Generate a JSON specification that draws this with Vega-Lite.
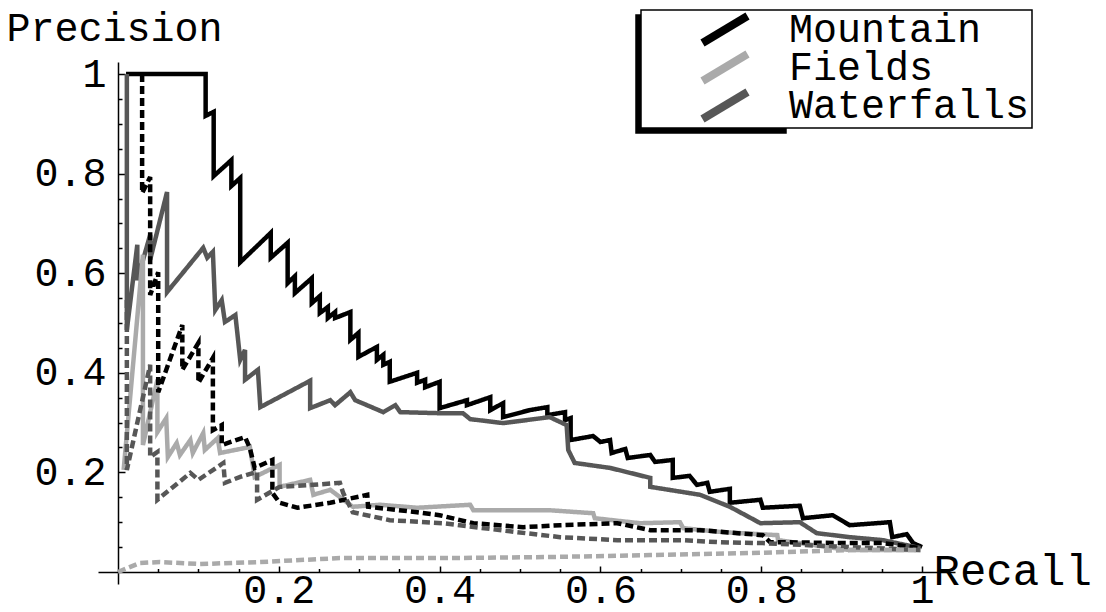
{
  "$schema": "https://vega.github.io/schema/vega-lite/v6.json",
  "width": 857,
  "height": 522,
  "autosize": "none",
  "padding": {"left": 98, "top": 62, "right": 151, "bottom": 28},
  "background": "white",
  "config": {
    "view": {"stroke": null},
    "font": "Liberation Mono",
    "legend": {"strokeWidth": 1.5}
  },
  "data": {"values": [
    {"s":"Mountain","k":"solid","i":1,"x":0.010,"y":1.000},
    {"s":"Mountain","k":"solid","i":2,"x":0.109,"y":1.000},
    {"s":"Mountain","k":"solid","i":3,"x":0.109,"y":0.916},
    {"s":"Mountain","k":"solid","i":4,"x":0.119,"y":0.924},
    {"s":"Mountain","k":"solid","i":5,"x":0.119,"y":0.795},
    {"s":"Mountain","k":"solid","i":6,"x":0.141,"y":0.827},
    {"s":"Mountain","k":"solid","i":7,"x":0.141,"y":0.775},
    {"s":"Mountain","k":"solid","i":8,"x":0.152,"y":0.791},
    {"s":"Mountain","k":"solid","i":9,"x":0.152,"y":0.622},
    {"s":"Mountain","k":"solid","i":10,"x":0.190,"y":0.681},
    {"s":"Mountain","k":"solid","i":11,"x":0.190,"y":0.631},
    {"s":"Mountain","k":"solid","i":12,"x":0.211,"y":0.661},
    {"s":"Mountain","k":"solid","i":13,"x":0.211,"y":0.580},
    {"s":"Mountain","k":"solid","i":14,"x":0.220,"y":0.594},
    {"s":"Mountain","k":"solid","i":15,"x":0.220,"y":0.560},
    {"s":"Mountain","k":"solid","i":16,"x":0.241,"y":0.590},
    {"s":"Mountain","k":"solid","i":17,"x":0.241,"y":0.540},
    {"s":"Mountain","k":"solid","i":18,"x":0.251,"y":0.554},
    {"s":"Mountain","k":"solid","i":19,"x":0.251,"y":0.520},
    {"s":"Mountain","k":"solid","i":20,"x":0.261,"y":0.532},
    {"s":"Mountain","k":"solid","i":21,"x":0.261,"y":0.510},
    {"s":"Mountain","k":"solid","i":22,"x":0.270,"y":0.522},
    {"s":"Mountain","k":"solid","i":23,"x":0.270,"y":0.510},
    {"s":"Mountain","k":"solid","i":24,"x":0.289,"y":0.522},
    {"s":"Mountain","k":"solid","i":25,"x":0.289,"y":0.466},
    {"s":"Mountain","k":"solid","i":26,"x":0.299,"y":0.480},
    {"s":"Mountain","k":"solid","i":27,"x":0.299,"y":0.432},
    {"s":"Mountain","k":"solid","i":28,"x":0.322,"y":0.452},
    {"s":"Mountain","k":"solid","i":29,"x":0.322,"y":0.426},
    {"s":"Mountain","k":"solid","i":30,"x":0.330,"y":0.436},
    {"s":"Mountain","k":"solid","i":31,"x":0.330,"y":0.416},
    {"s":"Mountain","k":"solid","i":32,"x":0.338,"y":0.422},
    {"s":"Mountain","k":"solid","i":33,"x":0.338,"y":0.382},
    {"s":"Mountain","k":"solid","i":34,"x":0.372,"y":0.400},
    {"s":"Mountain","k":"solid","i":35,"x":0.372,"y":0.380},
    {"s":"Mountain","k":"solid","i":36,"x":0.382,"y":0.386},
    {"s":"Mountain","k":"solid","i":37,"x":0.382,"y":0.371},
    {"s":"Mountain","k":"solid","i":38,"x":0.400,"y":0.382},
    {"s":"Mountain","k":"solid","i":39,"x":0.400,"y":0.329},
    {"s":"Mountain","k":"solid","i":40,"x":0.434,"y":0.345},
    {"s":"Mountain","k":"solid","i":41,"x":0.434,"y":0.335},
    {"s":"Mountain","k":"solid","i":42,"x":0.463,"y":0.351},
    {"s":"Mountain","k":"solid","i":43,"x":0.463,"y":0.325},
    {"s":"Mountain","k":"solid","i":44,"x":0.479,"y":0.339},
    {"s":"Mountain","k":"solid","i":45,"x":0.479,"y":0.311},
    {"s":"Mountain","k":"solid","i":46,"x":0.512,"y":0.325},
    {"s":"Mountain","k":"solid","i":47,"x":0.534,"y":0.331},
    {"s":"Mountain","k":"solid","i":48,"x":0.534,"y":0.315},
    {"s":"Mountain","k":"solid","i":49,"x":0.556,"y":0.321},
    {"s":"Mountain","k":"solid","i":50,"x":0.556,"y":0.305},
    {"s":"Mountain","k":"solid","i":51,"x":0.563,"y":0.309},
    {"s":"Mountain","k":"solid","i":52,"x":0.563,"y":0.265},
    {"s":"Mountain","k":"solid","i":53,"x":0.591,"y":0.273},
    {"s":"Mountain","k":"solid","i":54,"x":0.600,"y":0.261},
    {"s":"Mountain","k":"solid","i":55,"x":0.612,"y":0.265},
    {"s":"Mountain","k":"solid","i":56,"x":0.614,"y":0.239},
    {"s":"Mountain","k":"solid","i":57,"x":0.631,"y":0.247},
    {"s":"Mountain","k":"solid","i":58,"x":0.634,"y":0.229},
    {"s":"Mountain","k":"solid","i":59,"x":0.662,"y":0.235},
    {"s":"Mountain","k":"solid","i":60,"x":0.668,"y":0.221},
    {"s":"Mountain","k":"solid","i":61,"x":0.690,"y":0.225},
    {"s":"Mountain","k":"solid","i":62,"x":0.690,"y":0.189},
    {"s":"Mountain","k":"solid","i":63,"x":0.711,"y":0.193},
    {"s":"Mountain","k":"solid","i":64,"x":0.720,"y":0.175},
    {"s":"Mountain","k":"solid","i":65,"x":0.733,"y":0.179},
    {"s":"Mountain","k":"solid","i":66,"x":0.736,"y":0.161},
    {"s":"Mountain","k":"solid","i":67,"x":0.761,"y":0.167},
    {"s":"Mountain","k":"solid","i":68,"x":0.761,"y":0.139},
    {"s":"Mountain","k":"solid","i":69,"x":0.799,"y":0.145},
    {"s":"Mountain","k":"solid","i":70,"x":0.802,"y":0.129},
    {"s":"Mountain","k":"solid","i":71,"x":0.848,"y":0.133},
    {"s":"Mountain","k":"solid","i":72,"x":0.852,"y":0.108},
    {"s":"Mountain","k":"solid","i":73,"x":0.889,"y":0.114},
    {"s":"Mountain","k":"solid","i":74,"x":0.910,"y":0.094},
    {"s":"Mountain","k":"solid","i":75,"x":0.960,"y":0.100},
    {"s":"Mountain","k":"solid","i":76,"x":0.963,"y":0.070},
    {"s":"Mountain","k":"solid","i":77,"x":0.981,"y":0.076},
    {"s":"Mountain","k":"solid","i":78,"x":0.989,"y":0.058},
    {"s":"Mountain","k":"solid","i":79,"x":1.000,"y":0.050},

    {"s":"Waterfalls","k":"solid","i":1,"x":0.011,"y":1.000},
    {"s":"Waterfalls","k":"solid","i":2,"x":0.011,"y":0.486},
    {"s":"Waterfalls","k":"solid","i":3,"x":0.024,"y":0.657},
    {"s":"Waterfalls","k":"solid","i":4,"x":0.024,"y":0.586},
    {"s":"Waterfalls","k":"solid","i":5,"x":0.040,"y":0.677},
    {"s":"Waterfalls","k":"solid","i":6,"x":0.040,"y":0.627},
    {"s":"Waterfalls","k":"solid","i":7,"x":0.061,"y":0.763},
    {"s":"Waterfalls","k":"solid","i":8,"x":0.061,"y":0.562},
    {"s":"Waterfalls","k":"solid","i":9,"x":0.106,"y":0.651},
    {"s":"Waterfalls","k":"solid","i":10,"x":0.111,"y":0.631},
    {"s":"Waterfalls","k":"solid","i":11,"x":0.118,"y":0.643},
    {"s":"Waterfalls","k":"solid","i":12,"x":0.121,"y":0.526},
    {"s":"Waterfalls","k":"solid","i":13,"x":0.129,"y":0.546},
    {"s":"Waterfalls","k":"solid","i":14,"x":0.133,"y":0.502},
    {"s":"Waterfalls","k":"solid","i":15,"x":0.146,"y":0.516},
    {"s":"Waterfalls","k":"solid","i":16,"x":0.152,"y":0.426},
    {"s":"Waterfalls","k":"solid","i":17,"x":0.158,"y":0.446},
    {"s":"Waterfalls","k":"solid","i":18,"x":0.158,"y":0.386},
    {"s":"Waterfalls","k":"solid","i":19,"x":0.174,"y":0.406},
    {"s":"Waterfalls","k":"solid","i":20,"x":0.177,"y":0.331},
    {"s":"Waterfalls","k":"solid","i":21,"x":0.239,"y":0.384},
    {"s":"Waterfalls","k":"solid","i":22,"x":0.239,"y":0.329},
    {"s":"Waterfalls","k":"solid","i":23,"x":0.264,"y":0.345},
    {"s":"Waterfalls","k":"solid","i":24,"x":0.270,"y":0.335},
    {"s":"Waterfalls","k":"solid","i":25,"x":0.289,"y":0.361},
    {"s":"Waterfalls","k":"solid","i":26,"x":0.295,"y":0.345},
    {"s":"Waterfalls","k":"solid","i":27,"x":0.330,"y":0.321},
    {"s":"Waterfalls","k":"solid","i":28,"x":0.345,"y":0.335},
    {"s":"Waterfalls","k":"solid","i":29,"x":0.351,"y":0.321},
    {"s":"Waterfalls","k":"solid","i":30,"x":0.397,"y":0.319},
    {"s":"Waterfalls","k":"solid","i":31,"x":0.429,"y":0.319},
    {"s":"Waterfalls","k":"solid","i":32,"x":0.438,"y":0.307},
    {"s":"Waterfalls","k":"solid","i":33,"x":0.479,"y":0.299},
    {"s":"Waterfalls","k":"solid","i":34,"x":0.537,"y":0.311},
    {"s":"Waterfalls","k":"solid","i":35,"x":0.558,"y":0.295},
    {"s":"Waterfalls","k":"solid","i":36,"x":0.560,"y":0.245},
    {"s":"Waterfalls","k":"solid","i":37,"x":0.568,"y":0.219},
    {"s":"Waterfalls","k":"solid","i":38,"x":0.612,"y":0.209},
    {"s":"Waterfalls","k":"solid","i":39,"x":0.662,"y":0.189},
    {"s":"Waterfalls","k":"solid","i":40,"x":0.662,"y":0.171},
    {"s":"Waterfalls","k":"solid","i":41,"x":0.724,"y":0.155},
    {"s":"Waterfalls","k":"solid","i":42,"x":0.761,"y":0.131},
    {"s":"Waterfalls","k":"solid","i":43,"x":0.799,"y":0.098},
    {"s":"Waterfalls","k":"solid","i":44,"x":0.848,"y":0.100},
    {"s":"Waterfalls","k":"solid","i":45,"x":0.869,"y":0.078},
    {"s":"Waterfalls","k":"solid","i":46,"x":0.910,"y":0.070},
    {"s":"Waterfalls","k":"solid","i":47,"x":0.951,"y":0.064},
    {"s":"Waterfalls","k":"solid","i":48,"x":0.998,"y":0.048},

    {"s":"Fields","k":"solid","i":1,"x":0.007,"y":0.205},
    {"s":"Fields","k":"solid","i":2,"x":0.031,"y":0.637},
    {"s":"Fields","k":"solid","i":3,"x":0.031,"y":0.255},
    {"s":"Fields","k":"solid","i":4,"x":0.049,"y":0.386},
    {"s":"Fields","k":"solid","i":5,"x":0.049,"y":0.281},
    {"s":"Fields","k":"solid","i":6,"x":0.060,"y":0.309},
    {"s":"Fields","k":"solid","i":7,"x":0.062,"y":0.231},
    {"s":"Fields","k":"solid","i":8,"x":0.073,"y":0.259},
    {"s":"Fields","k":"solid","i":9,"x":0.077,"y":0.235},
    {"s":"Fields","k":"solid","i":10,"x":0.090,"y":0.265},
    {"s":"Fields","k":"solid","i":11,"x":0.093,"y":0.239},
    {"s":"Fields","k":"solid","i":12,"x":0.106,"y":0.279},
    {"s":"Fields","k":"solid","i":13,"x":0.108,"y":0.245},
    {"s":"Fields","k":"solid","i":14,"x":0.124,"y":0.269},
    {"s":"Fields","k":"solid","i":15,"x":0.127,"y":0.239},
    {"s":"Fields","k":"solid","i":16,"x":0.164,"y":0.251},
    {"s":"Fields","k":"solid","i":17,"x":0.170,"y":0.191},
    {"s":"Fields","k":"solid","i":18,"x":0.201,"y":0.215},
    {"s":"Fields","k":"solid","i":19,"x":0.201,"y":0.171},
    {"s":"Fields","k":"solid","i":20,"x":0.239,"y":0.185},
    {"s":"Fields","k":"solid","i":21,"x":0.243,"y":0.155},
    {"s":"Fields","k":"solid","i":22,"x":0.264,"y":0.165},
    {"s":"Fields","k":"solid","i":23,"x":0.292,"y":0.131},
    {"s":"Fields","k":"solid","i":24,"x":0.326,"y":0.135},
    {"s":"Fields","k":"solid","i":25,"x":0.372,"y":0.129},
    {"s":"Fields","k":"solid","i":26,"x":0.438,"y":0.135},
    {"s":"Fields","k":"solid","i":27,"x":0.442,"y":0.124},
    {"s":"Fields","k":"solid","i":28,"x":0.537,"y":0.124},
    {"s":"Fields","k":"solid","i":29,"x":0.591,"y":0.118},
    {"s":"Fields","k":"solid","i":30,"x":0.593,"y":0.108},
    {"s":"Fields","k":"solid","i":31,"x":0.649,"y":0.098},
    {"s":"Fields","k":"solid","i":32,"x":0.699,"y":0.100},
    {"s":"Fields","k":"solid","i":33,"x":0.703,"y":0.088},
    {"s":"Fields","k":"solid","i":34,"x":0.752,"y":0.080},
    {"s":"Fields","k":"solid","i":35,"x":0.820,"y":0.074},
    {"s":"Fields","k":"solid","i":36,"x":0.821,"y":0.064},
    {"s":"Fields","k":"solid","i":37,"x":0.910,"y":0.044},
    {"s":"Fields","k":"solid","i":38,"x":0.998,"y":0.044},

    {"s":"Mountain","k":"dash","i":1,"x":0.030,"y":1.000},
    {"s":"Mountain","k":"dash","i":2,"x":0.030,"y":0.761},
    {"s":"Mountain","k":"dash","i":3,"x":0.040,"y":0.793},
    {"s":"Mountain","k":"dash","i":4,"x":0.040,"y":0.556},
    {"s":"Mountain","k":"dash","i":5,"x":0.050,"y":0.602},
    {"s":"Mountain","k":"dash","i":6,"x":0.050,"y":0.361},
    {"s":"Mountain","k":"dash","i":7,"x":0.080,"y":0.496},
    {"s":"Mountain","k":"dash","i":8,"x":0.080,"y":0.406},
    {"s":"Mountain","k":"dash","i":9,"x":0.100,"y":0.460},
    {"s":"Mountain","k":"dash","i":10,"x":0.100,"y":0.380},
    {"s":"Mountain","k":"dash","i":11,"x":0.118,"y":0.430},
    {"s":"Mountain","k":"dash","i":12,"x":0.118,"y":0.285},
    {"s":"Mountain","k":"dash","i":13,"x":0.129,"y":0.295},
    {"s":"Mountain","k":"dash","i":14,"x":0.129,"y":0.255},
    {"s":"Mountain","k":"dash","i":15,"x":0.158,"y":0.271},
    {"s":"Mountain","k":"dash","i":16,"x":0.164,"y":0.249},
    {"s":"Mountain","k":"dash","i":17,"x":0.170,"y":0.209},
    {"s":"Mountain","k":"dash","i":18,"x":0.192,"y":0.225},
    {"s":"Mountain","k":"dash","i":19,"x":0.192,"y":0.159},
    {"s":"Mountain","k":"dash","i":20,"x":0.201,"y":0.139},
    {"s":"Mountain","k":"dash","i":21,"x":0.223,"y":0.129},
    {"s":"Mountain","k":"dash","i":22,"x":0.264,"y":0.139},
    {"s":"Mountain","k":"dash","i":23,"x":0.310,"y":0.155},
    {"s":"Mountain","k":"dash","i":24,"x":0.311,"y":0.131},
    {"s":"Mountain","k":"dash","i":25,"x":0.372,"y":0.120},
    {"s":"Mountain","k":"dash","i":26,"x":0.400,"y":0.114},
    {"s":"Mountain","k":"dash","i":27,"x":0.442,"y":0.098},
    {"s":"Mountain","k":"dash","i":28,"x":0.504,"y":0.090},
    {"s":"Mountain","k":"dash","i":29,"x":0.550,"y":0.094},
    {"s":"Mountain","k":"dash","i":30,"x":0.621,"y":0.098},
    {"s":"Mountain","k":"dash","i":31,"x":0.662,"y":0.084},
    {"s":"Mountain","k":"dash","i":32,"x":0.724,"y":0.084},
    {"s":"Mountain","k":"dash","i":33,"x":0.802,"y":0.074},
    {"s":"Mountain","k":"dash","i":34,"x":0.811,"y":0.060},
    {"s":"Mountain","k":"dash","i":35,"x":0.910,"y":0.058},
    {"s":"Mountain","k":"dash","i":36,"x":0.951,"y":0.058},
    {"s":"Mountain","k":"dash","i":37,"x":0.998,"y":0.048},

    {"s":"Waterfalls","k":"dash","i":1,"x":0.011,"y":0.546},
    {"s":"Waterfalls","k":"dash","i":2,"x":0.011,"y":0.205},
    {"s":"Waterfalls","k":"dash","i":3,"x":0.040,"y":0.416},
    {"s":"Waterfalls","k":"dash","i":4,"x":0.040,"y":0.231},
    {"s":"Waterfalls","k":"dash","i":5,"x":0.049,"y":0.241},
    {"s":"Waterfalls","k":"dash","i":6,"x":0.049,"y":0.145},
    {"s":"Waterfalls","k":"dash","i":7,"x":0.090,"y":0.199},
    {"s":"Waterfalls","k":"dash","i":8,"x":0.100,"y":0.185},
    {"s":"Waterfalls","k":"dash","i":9,"x":0.131,"y":0.219},
    {"s":"Waterfalls","k":"dash","i":10,"x":0.133,"y":0.179},
    {"s":"Waterfalls","k":"dash","i":11,"x":0.152,"y":0.191},
    {"s":"Waterfalls","k":"dash","i":12,"x":0.173,"y":0.201},
    {"s":"Waterfalls","k":"dash","i":13,"x":0.173,"y":0.145},
    {"s":"Waterfalls","k":"dash","i":14,"x":0.201,"y":0.171},
    {"s":"Waterfalls","k":"dash","i":15,"x":0.243,"y":0.175},
    {"s":"Waterfalls","k":"dash","i":16,"x":0.276,"y":0.179},
    {"s":"Waterfalls","k":"dash","i":17,"x":0.280,"y":0.159},
    {"s":"Waterfalls","k":"dash","i":18,"x":0.292,"y":0.120},
    {"s":"Waterfalls","k":"dash","i":19,"x":0.338,"y":0.104},
    {"s":"Waterfalls","k":"dash","i":20,"x":0.404,"y":0.098},
    {"s":"Waterfalls","k":"dash","i":21,"x":0.496,"y":0.080},
    {"s":"Waterfalls","k":"dash","i":22,"x":0.550,"y":0.070},
    {"s":"Waterfalls","k":"dash","i":23,"x":0.621,"y":0.064},
    {"s":"Waterfalls","k":"dash","i":24,"x":0.703,"y":0.064},
    {"s":"Waterfalls","k":"dash","i":25,"x":0.745,"y":0.060},
    {"s":"Waterfalls","k":"dash","i":26,"x":0.802,"y":0.058},
    {"s":"Waterfalls","k":"dash","i":27,"x":0.910,"y":0.050},
    {"s":"Waterfalls","k":"dash","i":28,"x":0.998,"y":0.044},

    {"s":"Fields","k":"dash","i":1,"x":0.000,"y":0.000},
    {"s":"Fields","k":"dash","i":2,"x":0.027,"y":0.018},
    {"s":"Fields","k":"dash","i":3,"x":0.052,"y":0.020},
    {"s":"Fields","k":"dash","i":4,"x":0.102,"y":0.016},
    {"s":"Fields","k":"dash","i":5,"x":0.177,"y":0.020},
    {"s":"Fields","k":"dash","i":6,"x":0.276,"y":0.028},
    {"s":"Fields","k":"dash","i":7,"x":0.413,"y":0.028},
    {"s":"Fields","k":"dash","i":8,"x":0.537,"y":0.030},
    {"s":"Fields","k":"dash","i":9,"x":0.662,"y":0.034},
    {"s":"Fields","k":"dash","i":10,"x":0.786,"y":0.038},
    {"s":"Fields","k":"dash","i":11,"x":0.910,"y":0.044},
    {"s":"Fields","k":"dash","i":12,"x":0.998,"y":0.044}
  ]},
  "mark": {"type": "line", "strokeWidth": 4.5, "clip": false},
  "encoding": {
    "x": {
      "field": "x", "type": "quantitative",
      "scale": {"domain": [-0.02488, 1.04104], "nice": false, "zero": false},
      "axis": {
        "orient": "bottom", "offset": -12, "grid": false,
        "values": [0.05,0.1,0.15,0.2,0.25,0.3,0.35,0.4,0.45,0.5,0.55,0.6,0.65,0.7,0.75,0.8,0.85,0.9,0.95,1],
        "domainColor": "black", "domainWidth": 1.5,
        "tickColor": "black", "tickWidth": 1.5,
        "tickSize": {"condition": {"test": "abs(datum.value*5-round(datum.value*5))<0.001", "value": -6}, "value": -3.5},
        "labelExpr": "abs(datum.value*5-round(datum.value*5))<0.001 ? (datum.value > 0.99 ? '1' : format(datum.value, '.1f')) : ''",
        "labelFont": "Liberation Mono", "labelFontSize": 40, "labelColor": "black",
        "labelBaseline": "top", "labelPadding": 4, "labelFlush": false, "labelOverlap": false,
        "title": "Recall", "titleFont": "Liberation Mono", "titleFontSize": 44, "titleFontWeight": "normal",
        "titleColor": "black", "titleAngle": 0, "titleAlign": "left", "titleBaseline": "middle",
        "titleX": 835, "titleY": -1
      }
    },
    "y": {
      "field": "y", "type": "quantitative",
      "scale": {"domain": [-0.0241, 1.0241], "nice": false, "zero": false},
      "axis": {
        "orient": "left", "offset": -20, "grid": false,
        "values": [0.05,0.1,0.15,0.2,0.25,0.3,0.35,0.4,0.45,0.5,0.55,0.6,0.65,0.7,0.75,0.8,0.85,0.9,0.95,1],
        "domainColor": "black", "domainWidth": 1.5,
        "tickColor": "black", "tickWidth": 1.5,
        "tickSize": {"condition": {"test": "abs(datum.value*5-round(datum.value*5))<0.001", "value": -7}, "value": -4},
        "labelExpr": "abs(datum.value*5-round(datum.value*5))<0.001 ? (datum.value > 0.99 ? '1' : format(datum.value, '.1f')) : ''",
        "labelFont": "Liberation Mono", "labelFontSize": 40, "labelColor": "black",
        "labelAlign": "right", "labelBaseline": "middle", "labelPadding": 19, "labelFlush": false, "labelOverlap": false,
        "title": "Precision", "titleFont": "Liberation Mono", "titleFontSize": 40, "titleFontWeight": "normal",
        "titleColor": "black", "titleAngle": 0, "titleAlign": "left", "titleBaseline": "middle",
        "titleX": -112, "titleY": -34
      }
    },
    "order": {"field": "i", "type": "quantitative"},
    "color": {
      "field": "s", "type": "nominal",
      "scale": {"domain": ["Mountain", "Fields", "Waterfalls"], "range": ["#000000", "#aaaaaa", "#575757"]},
      "legend": {
        "orient": "none", "legendX": 543, "legendY": -52, "title": null, "zindex": 2,
        "labelFont": "Liberation Mono", "labelFontSize": 40, "labelColor": "black", "labelLimit": 600,
        "symbolType": "M-2.25,1.35L2.25,-1.35", "symbolSize": 400, "symbolStrokeWidth": 8,
        "labelOffset": 44, "padding": 2, "symbolOffset": 62, "rowPadding": -5, "clipHeight": 35,
        "fillColor": "white", "strokeColor": "black"
      }
    },
    "opacity": {
      "field": "s", "type": "nominal",
      "scale": {"domain": ["Fields", "Mountain", "Waterfalls"], "range": [1, 1, 1]},
      "legend": {
        "orient": "none", "legendX": 538, "legendY": -47, "title": null, "zindex": 1,
        "labelFont": "Liberation Mono", "labelFontSize": 40, "labelColor": "black", "labelLimit": 600,
        "labelExpr": "'          '",
        "symbolType": "M-2.25,1.35L2.25,-1.35", "symbolSize": 400, "symbolStrokeWidth": 8,
        "symbolStrokeColor": "black",
        "labelOffset": 44, "padding": 2, "symbolOffset": 62, "rowPadding": -5, "clipHeight": 35,
        "fillColor": "black", "strokeColor": "black"
      }
    },
    "strokeDash": {
      "field": "k", "type": "nominal",
      "scale": {"domain": ["solid", "dash"], "range": [[1, 0], [8, 4]]},
      "legend": null
    }
  }
}
